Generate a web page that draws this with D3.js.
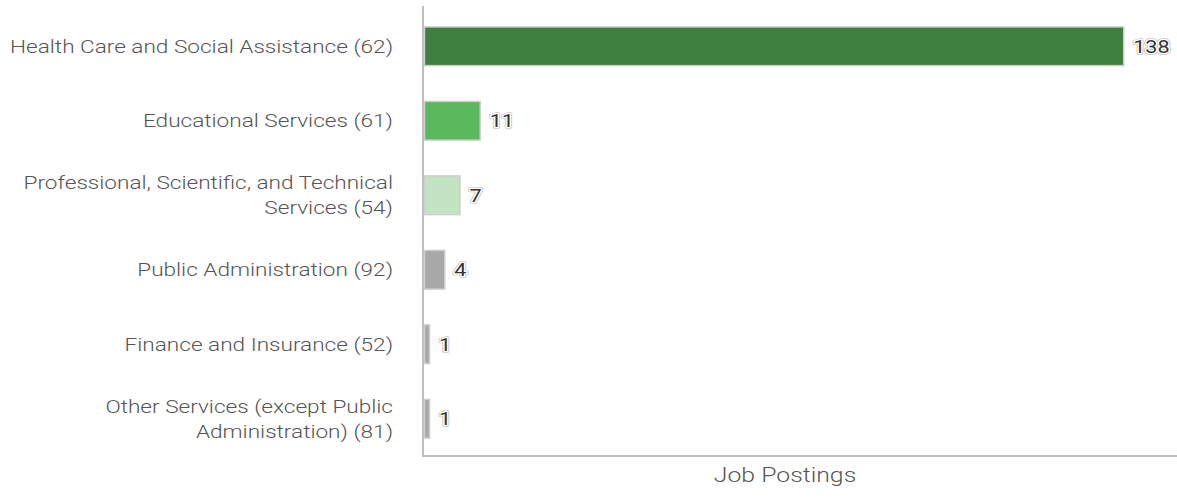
<!DOCTYPE html>
<html>
<head>
<meta charset="utf-8">
<script src="https://cdn.jsdelivr.net/npm/d3@7"></script>
<style>
  body { margin: 0; background: #fff; font-family: Roboto, sans-serif; }
</style>
</head>
<body>
<div class="chart-container"></div>
<script>
//! DATA
const categories = [
  ['Health Care and Social Assistance (62)'],
  ['Educational Services (61)'],
  ['Professional, Scientific, and Technical', 'Services (54)'],
  ['Public Administration (92)'],
  ['Finance and Insurance (52)'],
  ['Other Services (except Public', 'Administration) (81)']
]
const postings = [138, 11, 7, 4, 1, 1]
const barColors = ['#3e7e3e', '#5cb85c', '#c2e4c2', '#a8a8a8', '#a8a8a8', '#a8a8a8']
const axisTitle = 'Job Postings'

//! CONSTS
const width = 1177
const height = 500
const padLeft = 424
const padTop = 9
const axisY = 456
const stretch = 1.255   // text in the reference is wide

const svg = d3.select('.chart-container')
  .append('svg')
  .attr('width', width)
  .attr('height', height)

const rows = categories.map((c, i) => ({ id: i, lines: c, value: postings[i], color: barColors[i] }))

//! SCALES
const xScale = d3.scaleLinear()
  .domain([0, 142.5])
  .range([padLeft, 1146])

const yScale = d3.scaleBand()
  .domain(rows.map(d => d.id))
  .range([padTop, axisY])
  .paddingInner(0.48)
  .paddingOuter(0.24)

//! AXES
svg.append('line')
  .attr('x1', padLeft - 1).attr('x2', padLeft - 1)
  .attr('y1', 6).attr('y2', axisY)
  .attr('stroke', '#bdbdbd').attr('stroke-width', 2)

svg.append('line')
  .attr('x1', padLeft - 2).attr('x2', width)
  .attr('y1', axisY).attr('y2', axisY)
  .attr('stroke', '#bdbdbd').attr('stroke-width', 2)

// category labels
const labels = svg.append('g')
  .selectAll('text')
  .data(rows)
  .enter()
  .append('text')
  .attr('text-anchor', 'end')
  .attr('font-size', 18)
  .attr('font-weight', 300)
  .attr('fill', '#555')
  .attr('transform', d => `translate(393,${yScale(d.id) + yScale.bandwidth() / 2}) scale(${stretch},1)`)

labels.selectAll('tspan')
  .data(d => d.lines.map((l, j) => ({ l, j, n: d.lines.length })))
  .enter()
  .append('tspan')
  .attr('x', 0)
  .attr('y', t => (t.j - (t.n - 1) / 2) * 25)
  .attr('dy', '0.35em')
  .text(t => t.l)

//! BARS
svg.append('g')
  .selectAll('rect')
  .data(rows)
  .enter()
  .append('rect')
  .attr('x', xScale(0) + 0.5)
  .attr('y', d => yScale(d.id))
  .attr('width', d => xScale(d.value) - xScale(0))
  .attr('height', yScale.bandwidth())
  .attr('fill', d => d.color)
  .attr('stroke', '#cfcfcf')
  .attr('stroke-width', 1.5)

// value labels: grey ring, white halo, dark fill
const valueG = svg.append('g')
  .selectAll('g')
  .data(rows)
  .enter()
  .append('g')
  .attr('transform', d => `translate(${xScale(d.value) + 10},${yScale(d.id) + yScale.bandwidth() / 2}) scale(1.2,1)`)

const halo = [
  { stroke: '#c4c4c4', w: 4 },
  { stroke: '#ffffff', w: 2.5 }
]
halo.forEach(h => {
  valueG.append('text')
    .attr('dy', '0.35em')
    .attr('font-size', 18)
    .attr('fill', 'none')
    .attr('stroke', h.stroke)
    .attr('stroke-width', h.w)
    .attr('stroke-linejoin', 'round')
    .text(d => d.value)
})
valueG.append('text')
  .attr('dy', '0.35em')
  .attr('font-size', 18)
  .attr('fill', '#333')
  .text(d => d.value)

//! TITLE
svg.append('text')
  .attr('transform', `translate(785,482) scale(1.24,1)`)
  .attr('text-anchor', 'middle')
  .attr('font-size', 20)
  .attr('font-weight', 300)
  .attr('fill', '#555')
  .text(axisTitle)
</script>
</body>
</html>
